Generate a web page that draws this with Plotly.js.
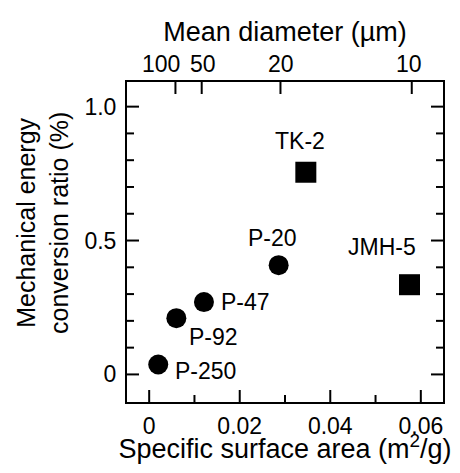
<!DOCTYPE html>
<html>
<head>
<meta charset="utf-8">
<script src="https://cdn.plot.ly/plotly-3.0.1.min.js"></script>
<style>
  html, body { margin: 0; padding: 0; background: #fff; }
  #chart { width: 460px; height: 473px; }
</style>
</head>
<body>
<div id="chart"></div>
<script>
// ---- data ----
const sampleNames = ['P-250', 'P-92', 'P-47', 'P-20'];
const sampleSSA = [0.002, 0.006, 0.0121, 0.0286];
const sampleRatio = [0.037, 0.21, 0.27, 0.408];

const refNames = ['TK-2', 'JMH-5'];
const refSSA = [0.0346, 0.0575];
const refRatio = [0.755, 0.335];

const xTickVals = [0, 0.02, 0.04, 0.06];
const xTickText = ['0', '0.02', '0.04', '0.06'];
const xMinorTicks = [0.01, 0.03, 0.05];
const yTickVals = [0, 0.5, 1.0];
const yTickText = ['0', '0.5', '1.0'];
const yMinorTicks = [0.1, 0.2, 0.3, 0.4, 0.6, 0.7, 0.8, 0.9];
const diameterTicks = [100, 50, 20, 10];
const diameterTickText = ['100', '50', '20', '10'];
const SSA_TIMES_DIAMETER = 0.58; // m^2/g * um

// ---- styling ----
const FONT = 'Liberation Sans, Arial, Helvetica, sans-serif';
const W = 460, H = 473;
const MARGIN = {l: 127, r: 17, t: 82, b: 71, pad: 0};
const PLOT_W = W - MARGIN.l - MARGIN.r;
const PLOT_H = H - MARGIN.t - MARGIN.b;
const MAJOR_LEN = 12, MINOR_LEN = 7;

const labelStyle = {
  'P-250': {xa: 'left', dx: 15, dy: -6},
  'P-92':  {xa: 'left', dx: 11, dy: -19},
  'P-47':  {xa: 'left', dx: 15, dy: 0},
  'P-20':  {xa: 'center', dx: -6, dy: 27},
  'TK-2':  {xa: 'center', dx: -6, dy: 31},
  'JMH-5': {xa: 'center', dx: -28, dy: 38}
};
const topLabelShift = [-14, 1, 1, -3];
const xRange = [-0.0049, 0.0649];
const yRange = [-0.103, 1.092];

// ---- inward tick marks as line segments on the axis scales ----
const dxPerPx = (xRange[1] - xRange[0]) / PLOT_W;
const dyPerPx = (yRange[1] - yRange[0]) / PLOT_H;
const tickX = [], tickY = [];
function xTicks(vals, len, atTop) {
  vals.forEach(v => {
    const base = atTop ? yRange[1] : yRange[0];
    const end = atTop ? base - len * dyPerPx : base + len * dyPerPx;
    tickX.push(v, v, null);
    tickY.push(base, end, null);
  });
}
function yTicks(vals, len) {
  vals.forEach(v => {
    tickX.push(xRange[0], xRange[0] + len * dxPerPx, null);
    tickY.push(v, v, null);
    tickX.push(xRange[1], xRange[1] - len * dxPerPx, null);
    tickY.push(v, v, null);
  });
}
xTicks(xTickVals, MAJOR_LEN, false);
xTicks(xMinorTicks, MINOR_LEN, false);
xTicks(diameterTicks.map(d => SSA_TIMES_DIAMETER / d), MAJOR_LEN, true);
yTicks(yTickVals, MAJOR_LEN);
yTicks(yMinorTicks, MINOR_LEN);

const traces = [
  {
    x: tickX, y: tickY, type: 'scatter', mode: 'lines',
    line: {color: '#000', width: 2}, connectgaps: false,
    hoverinfo: 'skip', showlegend: false
  },
  {
    x: sampleSSA, y: sampleRatio, type: 'scatter', mode: 'markers',
    marker: {symbol: 'circle', size: 20, color: '#000'},
    hoverinfo: 'skip', showlegend: false
  },
  {
    x: refSSA, y: refRatio, type: 'scatter', mode: 'markers',
    marker: {symbol: 'square', size: 21, color: '#000'},
    hoverinfo: 'skip', showlegend: false
  },
  {x: [], y: [], xaxis: 'x2', yaxis: 'y', type: 'scatter', mode: 'markers', hoverinfo: 'skip', showlegend: false},
  {x: [], y: [], xaxis: 'x3', yaxis: 'y', type: 'scatter', mode: 'markers', hoverinfo: 'skip', showlegend: false}
];

const annotations = [];
function addLabels(names, xs, ys) {
  names.forEach((n, i) => {
    const s = labelStyle[n];
    annotations.push({
      text: n, x: xs[i], y: ys[i], xref: 'x', yref: 'y',
      xanchor: s.xa, yanchor: 'middle', xshift: s.dx, yshift: s.dy,
      showarrow: false, font: {family: FONT, size: 23, color: '#000'}
    });
  });
}
addLabels(sampleNames, sampleSSA, sampleRatio);
addLabels(refNames, refSSA, refRatio);

diameterTicks.forEach((d, i) => {
  annotations.push({
    text: diameterTickText[i], x: SSA_TIMES_DIAMETER / d, y: 1,
    xref: 'x', yref: 'paper', xanchor: 'center', yanchor: 'middle',
    xshift: topLabelShift[i], yshift: 18, showarrow: false,
    font: {family: FONT, size: 23, color: '#000'}
  });
});

annotations.push({
  text: 'Mechanical energy<br>conversion ratio (%)',
  xref: 'paper', yref: 'paper', x: 0, y: 0.5, xshift: -85, yshift: 19,
  xanchor: 'center', yanchor: 'middle', textangle: -90, showarrow: false,
  font: {family: FONT, size: 25, color: '#000'}
});

const tickFont = {family: FONT, size: 23, color: '#000'};
const titleFont = {family: FONT, size: 27, color: '#000'};

const layout = {
  width: W, height: H,
  margin: MARGIN,
  paper_bgcolor: '#fff', plot_bgcolor: '#fff',
  font: {family: FONT, color: '#000'},
  xaxis: {
    range: xRange, showline: true, linewidth: 2, linecolor: '#000', mirror: false,
    showgrid: false, zeroline: false, ticks: '',
    tickmode: 'array', tickvals: xTickVals, ticktext: xTickText, tickangle: 0,
    tickfont: tickFont, ticklabelstandoff: 2
  },
  xaxis3: {
    overlaying: 'x', side: 'bottom', anchor: 'y', range: xRange,
    showline: false, showgrid: false, zeroline: false, showticklabels: false, ticks: '',
    title: {text: 'Specific surface area (m<sup>2</sup>/g)', font: titleFont, standoff: 37}
  },
  xaxis2: {
    overlaying: 'x', side: 'top', anchor: 'y', range: xRange,
    showline: true, linewidth: 2, linecolor: '#000', showgrid: false, zeroline: false,
    ticks: '', showticklabels: false,
    title: {text: 'Mean diameter (\u00b5m)', font: titleFont, standoff: 31}
  },
  yaxis: {
    range: yRange, showline: true, linewidth: 2, linecolor: '#000', mirror: true,
    showgrid: false, zeroline: false, ticks: '',
    tickmode: 'array', tickvals: yTickVals, ticktext: yTickText,
    tickfont: tickFont, ticklabelstandoff: 4
  },
  annotations: annotations
};

Plotly.newPlot('chart', traces, layout, {staticPlot: true, displayModeBar: false});
</script>
</body>
</html>
